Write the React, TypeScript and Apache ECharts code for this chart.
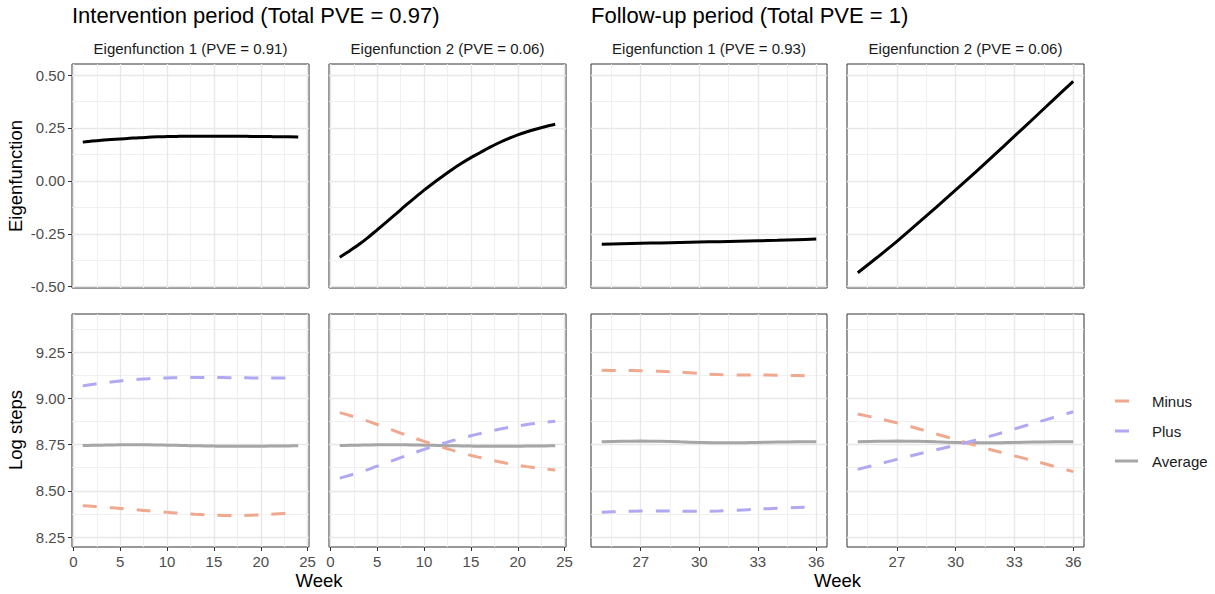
import React, { useEffect, useRef } from "react";
import * as echarts from "echarts";

const FONT = "'Liberation Sans', Arial, Helvetica, sans-serif";

// ---------- data ----------
const weeksInt = [1, 2, 3, 4, 5, 6, 7, 8, 9, 10, 11, 12, 13, 14, 15, 16, 17, 18, 19, 20, 21, 22, 23, 24];
const weeksFol = [25, 26, 27, 28, 29, 30, 31, 32, 33, 34, 35, 36];

const eig1Int = [0.183, 0.188, 0.192, 0.195, 0.198, 0.201, 0.204, 0.206, 0.208, 0.209, 0.21, 0.211, 0.211, 0.211, 0.211, 0.211, 0.211, 0.211, 0.21, 0.21, 0.209, 0.208, 0.208, 0.207];
const eig2Int = [-0.361, -0.332, -0.302, -0.268, -0.231, -0.194, -0.156, -0.117, -0.08, -0.044, -0.01, 0.022, 0.054, 0.083, 0.11, 0.134, 0.158, 0.18, 0.2, 0.217, 0.232, 0.245, 0.257, 0.267];
const eig1Fol = [-0.299, -0.297, -0.295, -0.293, -0.291, -0.289, -0.287, -0.285, -0.283, -0.281, -0.278, -0.275];
const eig2Fol = [-0.434, -0.361, -0.286, -0.206, -0.125, -0.043, 0.04, 0.125, 0.211, 0.297, 0.384, 0.47];

const avgInt = [8.745, 8.746, 8.747, 8.748, 8.749, 8.749, 8.749, 8.749, 8.748, 8.747, 8.746, 8.745, 8.744, 8.743, 8.742, 8.741, 8.741, 8.741, 8.741, 8.741, 8.742, 8.742, 8.743, 8.744];
const minusInt1 = [8.419, 8.416, 8.412, 8.409, 8.405, 8.4, 8.396, 8.392, 8.388, 8.384, 8.38, 8.377, 8.373, 8.37, 8.368, 8.367, 8.366, 8.366, 8.368, 8.37, 8.373, 8.376, 8.379, 8.382];
const plusInt1 = [9.068, 9.076, 9.083, 9.089, 9.095, 9.1, 9.104, 9.107, 9.11, 9.111, 9.112, 9.113, 9.113, 9.113, 9.113, 9.113, 9.112, 9.112, 9.111, 9.111, 9.111, 9.111, 9.111, 9.111];
const minusInt2 = [8.923, 8.909, 8.894, 8.877, 8.859, 8.841, 8.822, 8.803, 8.785, 8.768, 8.751, 8.735, 8.72, 8.706, 8.692, 8.68, 8.668, 8.657, 8.647, 8.639, 8.631, 8.624, 8.618, 8.613];
const plusInt2 = [8.569, 8.583, 8.598, 8.615, 8.634, 8.652, 8.67, 8.689, 8.707, 8.724, 8.741, 8.756, 8.771, 8.785, 8.798, 8.81, 8.822, 8.833, 8.843, 8.851, 8.859, 8.866, 8.872, 8.877];

const avgFol = [8.766, 8.768, 8.769, 8.768, 8.765, 8.762, 8.76, 8.76, 8.762, 8.764, 8.765, 8.766];
const minusFol1 = [9.152, 9.151, 9.15, 9.147, 9.142, 9.135, 9.129, 9.127, 9.127, 9.126, 9.124, 9.122];
const plusFol1 = [8.384, 8.388, 8.391, 8.391, 8.39, 8.389, 8.391, 8.395, 8.401, 8.406, 8.41, 8.414];
const minusFol2 = [8.916, 8.893, 8.868, 8.839, 8.808, 8.777, 8.746, 8.717, 8.689, 8.662, 8.633, 8.604];
const plusFol2 = [8.616, 8.643, 8.67, 8.697, 8.722, 8.747, 8.774, 8.803, 8.835, 8.866, 8.897, 8.928];

// ticks
const xTicksInt = [0, 5, 10, 15, 20, 25];
const xMinorInt = [2.5, 7.5, 12.5, 17.5, 22.5];
const xTicksFol = [27, 30, 33, 36];
const xMinorFol = [25.5, 28.5, 31.5, 34.5];
const yTicksEig = [-0.5, -0.25, 0, 0.25, 0.5];
const yMinorEig = [-0.375, -0.125, 0.125, 0.375];
const yTicksLog = [8.25, 8.5, 8.75, 9, 9.25];
const yMinorLog = [8.375, 8.625, 8.875, 9.125, 9.375];

// texts
const titleInt = "Intervention period (Total PVE = 0.97)";
const titleFol = "Follow-up period (Total PVE = 1)";
const stripInt = ["Eigenfunction 1 (PVE = 0.91)", "Eigenfunction 2 (PVE = 0.06)"];
const stripFol = ["Eigenfunction 1 (PVE = 0.93)", "Eigenfunction 2 (PVE = 0.06)"];
const legendNames = ["Minus", "Plus", "Average"];

// ---------- styling / layout ----------
const COL_MINUS = "#F0A88F";
const COL_PLUS = "#B0A8F2";
const COL_AVG = "#A6A6A6";
const DASH = [14, 13];

const X_INT = { min: -0.15, max: 25.15, major: xTicksInt, minor: xMinorInt };
const X_FOL = { min: 24.45, max: 36.55, major: xTicksFol, minor: xMinorFol };
const Y_EIG = { min: -0.506, max: 0.552, major: yTicksEig, minor: yMinorEig, dec: 2 };
const Y_LOG = { min: 8.196, max: 9.457, major: yTicksLog, minor: yMinorLog, dec: 2 };

const COLS = [
  { left: 72, width: 237 },
  { left: 329, width: 237 },
  { left: 591, width: 236 },
  { left: 847, width: 237 },
];
const ROWS = [
  { top: 64, height: 224 },
  { top: 314, height: 233 },
];

function pairs(xs: number[], ys: number[]) {
  return xs.map((x, i) => [x, ys[i]]);
}

type LineDef = { data: number[][]; color: string; dashed: boolean };

function buildOption() {
  const grid: any[] = [];
  const xAxis: any[] = [];
  const yAxis: any[] = [];
  const series: any[] = [];

  const panels: { col: number; row: number; X: any; Y: any; lines: LineDef[] }[] = [
    { col: 0, row: 0, X: X_INT, Y: Y_EIG, lines: [{ data: pairs(weeksInt, eig1Int), color: "#000000", dashed: false }] },
    { col: 1, row: 0, X: X_INT, Y: Y_EIG, lines: [{ data: pairs(weeksInt, eig2Int), color: "#000000", dashed: false }] },
    { col: 2, row: 0, X: X_FOL, Y: Y_EIG, lines: [{ data: pairs(weeksFol, eig1Fol), color: "#000000", dashed: false }] },
    { col: 3, row: 0, X: X_FOL, Y: Y_EIG, lines: [{ data: pairs(weeksFol, eig2Fol), color: "#000000", dashed: false }] },
    {
      col: 0, row: 1, X: X_INT, Y: Y_LOG, lines: [
        { data: pairs(weeksInt, avgInt), color: COL_AVG, dashed: false },
        { data: pairs(weeksInt, minusInt1), color: COL_MINUS, dashed: true },
        { data: pairs(weeksInt, plusInt1), color: COL_PLUS, dashed: true },
      ],
    },
    {
      col: 1, row: 1, X: X_INT, Y: Y_LOG, lines: [
        { data: pairs(weeksInt, avgInt), color: COL_AVG, dashed: false },
        { data: pairs(weeksInt, minusInt2), color: COL_MINUS, dashed: true },
        { data: pairs(weeksInt, plusInt2), color: COL_PLUS, dashed: true },
      ],
    },
    {
      col: 2, row: 1, X: X_FOL, Y: Y_LOG, lines: [
        { data: pairs(weeksFol, avgFol), color: COL_AVG, dashed: false },
        { data: pairs(weeksFol, minusFol1), color: COL_MINUS, dashed: true },
        { data: pairs(weeksFol, plusFol1), color: COL_PLUS, dashed: true },
      ],
    },
    {
      col: 3, row: 1, X: X_FOL, Y: Y_LOG, lines: [
        { data: pairs(weeksFol, avgFol), color: COL_AVG, dashed: false },
        { data: pairs(weeksFol, minusFol2), color: COL_MINUS, dashed: true },
        { data: pairs(weeksFol, plusFol2), color: COL_PLUS, dashed: true },
      ],
    },
  ];

  panels.forEach((p, i) => {
    const c = COLS[p.col];
    const r = ROWS[p.row];
    const showX = p.row === 1;
    const showY = p.col === 0;
    grid.push({
      left: c.left, top: r.top, width: c.width, height: r.height,
      show: true, borderColor: "#333333", borderWidth: 1, backgroundColor: "#ffffff",
      containLabel: false, outerBoundsMode: "none",
    });
    xAxis.push({
      gridIndex: i, type: "value", min: p.X.min, max: p.X.max,
      axisLine: { show: false, onZero: false },
      splitLine: { show: false },
      axisTick: { show: showX, customValues: p.X.major, length: 4, lineStyle: { color: "#333333", width: 1 } },
      axisLabel: {
        show: showX, customValues: p.X.major, margin: 7, color: "#4d4d4d", fontSize: 15, fontFamily: FONT,
        formatter: (v: number) => String(Math.round(v)),
      },
    });
    yAxis.push({
      gridIndex: i, type: "value", min: p.Y.min, max: p.Y.max,
      axisLine: { show: false, onZero: false },
      splitLine: { show: false },
      axisTick: { show: showY, customValues: p.Y.major, length: 4, lineStyle: { color: "#333333", width: 1 } },
      axisLabel: {
        show: showY, customValues: p.Y.major, margin: 7, color: "#4d4d4d", fontSize: 15, fontFamily: FONT,
        formatter: (v: number) => v.toFixed(p.Y.dec),
      },
    });
    const minorLines = [
      ...p.X.minor.map((x: number) => ({ coords: [[x, p.Y.min], [x, p.Y.max]] })),
      ...p.Y.minor.map((y: number) => ({ coords: [[p.X.min, y], [p.X.max, y]] })),
    ];
    const majorLines = [
      ...p.X.major.filter((x: number) => x > p.X.min && x < p.X.max).map((x: number) => ({ coords: [[x, p.Y.min], [x, p.Y.max]] })),
      ...p.Y.major.filter((y: number) => y > p.Y.min && y < p.Y.max).map((y: number) => ({ coords: [[p.X.min, y], [p.X.max, y]] })),
    ];
    series.push({
      type: "lines", coordinateSystem: "cartesian2d", xAxisIndex: i, yAxisIndex: i, silent: true, z: 1,
      symbol: ["none", "none"], lineStyle: { color: "#eeeeee", width: 0.9, opacity: 1 }, data: minorLines,
    });
    series.push({
      type: "lines", coordinateSystem: "cartesian2d", xAxisIndex: i, yAxisIndex: i, silent: true, z: 1,
      symbol: ["none", "none"], lineStyle: { color: "#e8e8e8", width: 1.4, opacity: 1 }, data: majorLines,
    });
    p.lines.forEach((l) => {
      series.push({
        type: "line", xAxisIndex: i, yAxisIndex: i, data: l.data, symbol: "none", showSymbol: false,
        smooth: 0.3, silent: true, z: 3, clip: true,
        lineStyle: { color: l.color, width: 3, type: l.dashed ? DASH : "solid", cap: "butt" },
      });
    });
  });

  const txt = (text: string, x: number, y: number, size: number, fill: string, align: string, rotation = 0) => ({
    type: "text", x, y, rotation, silent: true,
    style: {
      text, fill, fontSize: size, fontFamily: FONT,
      align, verticalAlign: "middle", textAlign: align, textVerticalAlign: "middle",
    },
  });

  const gx = (col: number) => COLS[col].left + COLS[col].width / 2;
  const graphic: any[] = [
    txt(titleInt, 72, 15, 22, "#000000", "left"),
    txt(titleFol, 591, 15, 22, "#000000", "left"),
    txt(stripInt[0], gx(0), 48, 15, "#1a1a1a", "center"),
    txt(stripInt[1], gx(1), 48, 15, "#1a1a1a", "center"),
    txt(stripFol[0], gx(2), 48, 15, "#1a1a1a", "center"),
    txt(stripFol[1], gx(3), 48, 15, "#1a1a1a", "center"),
    txt("Eigenfunction", 15, 176, 18.5, "#000000", "center", Math.PI / 2),
    txt("Log steps", 15, 430, 18.5, "#000000", "center", Math.PI / 2),
    txt("Week", (COLS[0].left + COLS[1].left + COLS[1].width) / 2, 580, 18.5, "#000000", "center"),
    txt("Week", (COLS[2].left + COLS[3].left + COLS[3].width) / 2, 580, 18.5, "#000000", "center"),
  ];
  const legendCols = [COL_MINUS, COL_PLUS, COL_AVG];
  const legendDashed = [true, true, false];
  legendNames.forEach((n, k) => {
    const y = 401 + k * 30;
    graphic.push({
      type: "line", silent: true,
      shape: { x1: 1115, y1: y, x2: 1138, y2: y },
      style: { stroke: legendCols[k], lineWidth: 3, lineDash: legendDashed[k] ? DASH : null, lineCap: "butt" },
    });
    graphic.push(txt(n, 1152, y, 15, "#1a1a1a", "left"));
  });

  return {
    animation: false,
    backgroundColor: "#ffffff",
    grid, xAxis, yAxis, series, graphic,
  };
}

export default function App() {
  const ref = useRef<HTMLDivElement>(null);
  useEffect(() => {
    if (!ref.current) return;
    const chart = echarts.init(ref.current, undefined, { renderer: "svg" });
    chart.setOption(buildOption() as any);
    return () => chart.dispose();
  }, []);
  return (
    <div
      ref={ref}
      style={{ position: "fixed", left: 0, top: 0, width: 1215, height: 594, background: "#ffffff" }}
    />
  );
}
